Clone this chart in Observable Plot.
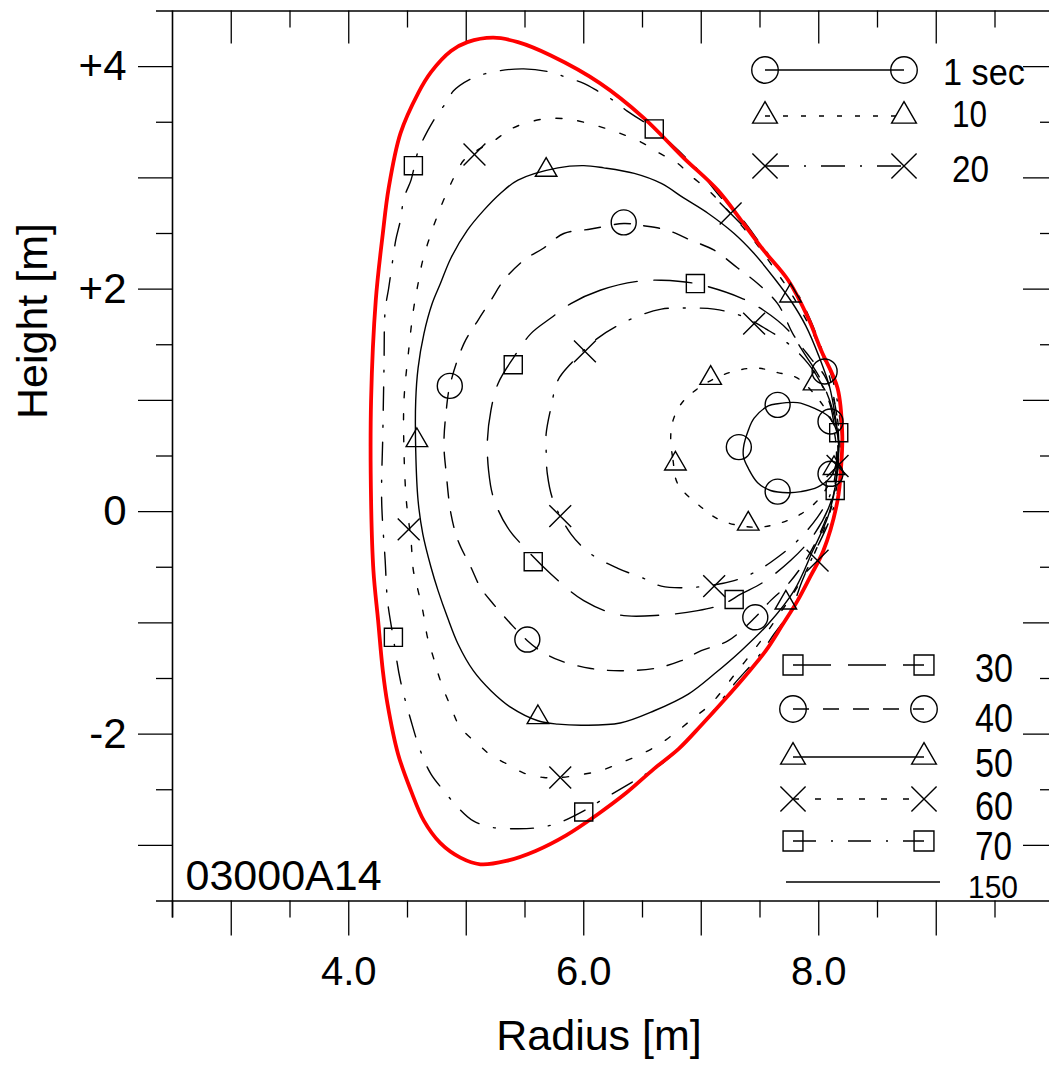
<!DOCTYPE html>
<html><head><meta charset="utf-8">
<script src="https://cdn.jsdelivr.net/npm/d3@7"></script>
<script src="https://cdn.jsdelivr.net/npm/@observablehq/plot@0.6"></script>
<style>
html,body{margin:0;padding:0;background:#fff;overflow:hidden;}
#wrap{position:relative;width:1049px;height:1065px;}
#wrap svg{position:absolute;left:0;top:0;}
</style></head><body><div id="wrap"></div>
<script>
// ---- data (Radius [m], Height [m]) ----
const c1 = [[7.65,0.97],[7.82,0.98],[7.96,0.93],[8.08,0.86],[8.14,0.76],[8.17,0.58],[8.14,0.40],[8.10,0.31],[7.99,0.22],[7.85,0.18],[7.74,0.17],[7.59,0.19],[7.48,0.26],[7.40,0.39],[7.36,0.49],[7.36,0.58],[7.40,0.73],[7.45,0.84],[7.57,0.95]];
const m1 = [[7.65,0.96],[7.32,0.58],[7.65,0.18],[8.10,0.34],[8.10,0.81]];

const c10 = [[6.74,0.67],[6.76,0.46],[6.80,0.25],[7.00,0.04],[7.17,-0.08],[7.45,-0.14],[7.65,-0.11],[7.85,-0.02],[7.99,0.10],[8.10,0.28],[8.15,0.50],[8.13,0.73],[8.10,0.84],[7.99,1.02],[7.82,1.20],[7.65,1.25],[7.48,1.29],[7.31,1.27],[7.12,1.20],[6.95,1.09],[6.83,0.97],[6.76,0.82]];
const m10 = [[7.08,1.20],[6.78,0.43],[7.40,-0.11],[8.13,0.39],[7.96,1.15]];

const c20 = [[5.68,0.55],[5.69,0.34],[5.74,0.10],[5.89,-0.20],[6.06,-0.38],[6.29,-0.51],[6.51,-0.60],[6.66,-0.67],[6.94,-0.68],[7.28,-0.62],[7.48,-0.53],[7.65,-0.41],[7.82,-0.26],[7.99,-0.05],[8.10,0.16],[8.15,0.41],[8.14,0.68],[8.10,0.95],[8.02,1.15],[7.91,1.33],[7.74,1.51],[7.57,1.63],[7.34,1.76],[7.11,1.82],[6.89,1.83],[6.66,1.82],[6.40,1.73],[6.12,1.56],[5.89,1.33],[5.78,1.18],[5.72,0.93],[5.68,0.70]];
const m20 = [[6.01,1.44],[5.80,-0.04],[7.11,-0.67],[8.16,0.41],[7.45,1.69]];

const c30 = [[5.89,1.87],[6.14,1.99],[6.46,2.07],[6.66,2.08],[6.95,2.05],[7.34,1.92],[7.53,1.81],[7.74,1.63],[7.89,1.40],[8.02,1.18],[8.12,0.91],[8.16,0.64],[8.15,0.32],[8.09,0.05],[7.95,-0.22],[7.76,-0.44],[7.52,-0.64],[7.34,-0.74],[7.19,-0.83],[6.97,-0.89],[6.66,-0.93],[6.31,-0.93],[6.00,-0.80],[5.72,-0.56],[5.52,-0.35],[5.35,-0.14],[5.23,0.13],[5.19,0.37],[5.18,0.64],[5.21,0.91],[5.27,1.15],[5.40,1.38],[5.55,1.60],[5.72,1.74]];
const m30 = [[5.40,1.32],[5.57,-0.45],[7.28,-0.79],[8.17,0.71],[6.95,2.05]];

const c40 = [[6.34,2.59],[6.51,2.57],[6.71,2.53],[6.91,2.44],[7.11,2.35],[7.31,2.19],[7.48,2.05],[7.65,1.87],[7.79,1.58],[7.93,1.38],[8.05,1.22],[8.13,1.00],[8.17,0.64],[8.15,0.28],[8.07,-0.04],[7.91,-0.40],[7.74,-0.65],[7.59,-0.80],[7.46,-0.95],[7.23,-1.16],[7.00,-1.25],[6.83,-1.34],[6.60,-1.41],[6.31,-1.43],[6.06,-1.41],[5.80,-1.34],[5.63,-1.25],[5.52,-1.16],[5.38,-1.01],[5.23,-0.83],[5.12,-0.68],[5.04,-0.50],[4.93,-0.26],[4.87,-0.02],[4.83,0.34],[4.81,0.61],[4.83,0.91],[4.86,1.13],[4.98,1.51],[5.10,1.72],[5.21,1.90],[5.32,2.08],[5.49,2.26],[5.66,2.37],[5.83,2.50],[6.06,2.54]];
const m40 = [[6.34,2.60],[4.86,1.13],[5.52,-1.15],[7.46,-0.95],[8.05,1.26]];

const c50 = [[6.00,3.11],[6.17,3.09],[6.43,3.04],[6.66,2.95],[6.85,2.82],[7.06,2.68],[7.28,2.50],[7.45,2.32],[7.62,2.10],[7.76,1.90],[7.89,1.67],[8.00,1.40],[8.09,1.13],[8.14,0.86],[8.17,0.59],[8.15,0.28],[8.08,-0.04],[7.95,-0.35],[7.79,-0.71],[7.57,-1.01],[7.34,-1.25],[7.11,-1.46],[6.89,-1.64],[6.60,-1.79],[6.31,-1.90],[6.00,-1.92],[5.78,-1.91],[5.61,-1.88],[5.38,-1.76],[5.21,-1.61],[5.06,-1.43],[4.93,-1.19],[4.84,-0.95],[4.76,-0.71],[4.70,-0.50],[4.63,-0.20],[4.59,0.10],[4.57,0.55],[4.57,1.00],[4.59,1.29],[4.64,1.60],[4.71,1.87],[4.78,2.05],[4.87,2.28],[5.01,2.53],[5.15,2.71],[5.29,2.86],[5.44,2.98],[5.78,3.09]];
const m50 = [[5.68,3.07],[4.58,0.64],[5.61,-1.85],[7.72,-0.82],[7.76,1.94]];

const c60 = [[5.23,3.33],[5.40,3.45],[5.66,3.53],[5.86,3.53],[6.00,3.50],[6.17,3.45],[6.31,3.40],[6.49,3.32],[6.63,3.23],[6.80,3.13],[6.91,3.02],[7.06,2.89],[7.25,2.68],[7.40,2.50],[7.51,2.35],[7.63,2.17],[7.76,1.97],[7.89,1.73],[8.00,1.49],[8.09,1.22],[8.14,0.95],[8.18,0.64],[8.17,0.32],[8.10,0.01],[7.99,-0.31],[7.85,-0.62],[7.66,-0.93],[7.48,-1.20],[7.28,-1.47],[7.08,-1.73],[6.94,-1.85],[6.80,-1.97],[6.66,-2.08],[6.49,-2.18],[6.31,-2.26],[6.14,-2.33],[6.00,-2.36],[5.80,-2.39],[5.66,-2.39],[5.49,-2.35],[5.35,-2.27],[5.21,-2.19],[5.10,-2.09],[4.95,-1.94],[4.87,-1.76],[4.78,-1.52],[4.72,-1.31],[4.67,-1.13],[4.63,-0.89],[4.59,-0.71],[4.55,-0.53],[4.53,-0.26],[4.49,0.10],[4.47,0.55],[4.47,1.00],[4.51,1.45],[4.55,1.81],[4.59,2.05],[4.63,2.26],[4.70,2.50],[4.78,2.73],[4.87,2.95],[4.98,3.16],[5.08,3.24]];
const m60 = [[5.07,3.21],[4.51,-0.16],[5.80,-2.39],[7.99,-0.44],[7.25,2.68]];

const c70 = [[5.27,3.96],[5.49,3.98],[5.72,3.95],[5.86,3.90],[6.00,3.85],[6.12,3.78],[6.26,3.69],[6.37,3.60],[6.60,3.44],[6.74,3.31],[6.89,3.16],[7.00,3.04],[7.17,2.82],[7.34,2.64],[7.53,2.37],[7.68,2.17],[7.82,1.96],[7.93,1.72],[8.03,1.45],[8.12,1.18],[8.17,0.91],[8.20,0.55],[8.17,0.23],[8.09,-0.08],[7.95,-0.40],[7.86,-0.62],[7.76,-0.89],[7.62,-1.10],[7.48,-1.31],[7.28,-1.55],[7.08,-1.82],[6.85,-2.09],[6.66,-2.27],[6.43,-2.42],[6.14,-2.60],[6.00,-2.69],[5.78,-2.80],[5.61,-2.84],[5.44,-2.85],[5.23,-2.84],[5.06,-2.78],[4.93,-2.66],[4.81,-2.51],[4.70,-2.36],[4.61,-2.15],[4.53,-1.88],[4.44,-1.52],[4.38,-1.14],[4.33,-0.80],[4.31,-0.44],[4.28,0.10],[4.29,0.70],[4.30,1.29],[4.31,1.81],[4.34,2.01],[4.37,2.23],[4.40,2.44],[4.44,2.62],[4.47,2.82],[4.53,2.98],[4.56,3.11],[4.59,3.24],[4.67,3.42],[4.76,3.58],[4.84,3.69],[4.89,3.78],[5.06,3.90]];
const m70 = [[6.60,3.44],[4.55,3.11],[4.38,-1.13],[6.00,-2.70],[8.14,0.19]];

const c150 = [[5.23,4.26],[5.44,4.22],[5.72,4.10],[6.14,3.85],[6.51,3.54],[6.85,3.18],[7.14,2.89],[7.36,2.59],[7.53,2.35],[7.74,2.08],[7.91,1.74],[8.02,1.45],[8.16,1.11],[8.20,0.70],[8.19,0.40],[8.16,0.10],[8.04,-0.35],[7.93,-0.58],[7.82,-0.80],[7.69,-1.02],[7.55,-1.25],[7.38,-1.47],[7.19,-1.70],[7.00,-1.92],[6.81,-2.13],[6.60,-2.31],[6.36,-2.53],[6.12,-2.72],[5.85,-2.91],[5.59,-3.05],[5.34,-3.14],[5.12,-3.17],[4.95,-3.11],[4.78,-2.98],[4.64,-2.78],[4.53,-2.51],[4.42,-2.18],[4.33,-1.73],[4.29,-1.43],[4.25,-0.98],[4.21,-0.53],[4.19,0.10],[4.19,1.00],[4.23,1.90],[4.29,2.50],[4.34,2.91],[4.44,3.40],[4.59,3.76],[4.70,3.95],[4.87,4.14],[5.01,4.22]];

const legendLabels = ["1 sec","10","20","30","40","50","60","70","150"];
const xTickValues = [4, 6, 8];
const xTickLabels = ["4.0", "6.0", "8.0"];
const yTickValues = [4, 2, 0, -2];
const yTickLabels = ["+4", "+2", "0", "-2"];
const xMajor = [3,4,5,6,7,8,9];
const xMinor = [2.5,3.5,4.5,5.5,6.5,7.5,8.5,9.5];
const yMajor = [-3,-2,-1,0,1,2,3,4];
const yMinor = [-2.5,-1.5,-0.5,0.5,1.5,2.5,3.5];
const plotId = "03000A14";
const xTitle = "Radius [m]";
const yTitle = "Height [m]";

// ---- styles ----
const series = [
  {pts:c1,  mk:m1,  symbol:"circle",   r:12.5, dash:null},
  {pts:c10, mk:m10, symbol:"triangle", r:8,    dash:"5,13"},
  {pts:c20, mk:m20, symbol:"times",    r:10,   dash:"24,15,2,15"},
  {pts:c30, mk:m30, symbol:"square",   r:10.2, dash:"38,17"},
  {pts:c40, mk:m40, symbol:"circle",   r:12.5, dash:"16,14"},
  {pts:c50, mk:m50, symbol:"triangle", r:8,    dash:null},
  {pts:c60, mk:m60, symbol:"times",    r:10,   dash:"6,16"},
  {pts:c70, mk:m70, symbol:"square",   r:10.2, dash:"23,15,2,15"}
];
const FONT = "'Liberation Sans', Arial, Helvetica, sans-serif";
const SW = 1.4;
const FH = 890, FW = 877;

const marks = [];
// frame lines
marks.push(Plot.ruleY([4.5], {insetLeft:-16, strokeWidth:1.6}));
marks.push(Plot.ruleY([-3.5], {insetLeft:-16, strokeWidth:1.6}));
marks.push(Plot.ruleX([2.5], {insetBottom:-17, strokeWidth:1.6}));
// bottom ticks (outward)
marks.push(Plot.ruleX(xMajor, {insetTop:FH, insetBottom:-35, strokeWidth:1.3}));
marks.push(Plot.ruleX(xMinor, {insetTop:FH, insetBottom:-17, strokeWidth:1.3}));
// top ticks (inward)
marks.push(Plot.ruleX(xMajor, {insetBottom:FH-33, strokeWidth:1.3}));
marks.push(Plot.ruleX(xMinor.filter(d=>d>2.5), {insetBottom:FH-17, strokeWidth:1.3}));
// left ticks (outward)
marks.push(Plot.ruleY(yMajor, {insetRight:FW, insetLeft:-34, strokeWidth:1.3}));
marks.push(Plot.ruleY(yMinor, {insetRight:FW, insetLeft:-16, strokeWidth:1.3}));
// right ticks (inward, axis itself lies just beyond the edge)
marks.push(Plot.ruleY(yMajor, {insetLeft:FW-26, strokeWidth:1.3}));
marks.push(Plot.ruleY(yMinor, {insetLeft:FW-9, strokeWidth:1.3}));
// tick labels
marks.push(Plot.text(xTickValues.map((v,i)=>({v, t:xTickLabels[i]})), {x:"v", text:"t", frameAnchor:"bottom", lineAnchor:"top", dy:56, fontSize:40}));
marks.push(Plot.text(yTickValues.map((v,i)=>({v, t:yTickLabels[i]})), {y:"v", text:"t", frameAnchor:"left", textAnchor:"end", dx:-46, fontSize:42}));
// titles
marks.push(Plot.text([xTitle], {frameAnchor:"bottom", lineAnchor:"bottom", dx:-12, dy:149, fontSize:43}));
marks.push(Plot.text([yTitle], {frameAnchor:"left", rotate:-90, dx:-139, dy:-37, fontSize:43}));
marks.push(Plot.text([plotId], {frameAnchor:"bottom-left", textAnchor:"start", lineAnchor:"bottom", dx:13, dy:-11, fontSize:43}));
// contours
for (const s of series) {
  marks.push(Plot.line(s.pts, {x:d=>d[0], y:d=>d[1], curve:"catmull-rom-closed", stroke:"#000", strokeWidth:SW, strokeDasharray:s.dash || undefined}));
}
marks.push(Plot.line(c150, {x:d=>d[0], y:d=>d[1], curve:"catmull-rom-closed", stroke:"#f00", strokeWidth:3.8}));
for (const s of series) {
  marks.push(Plot.dot(s.mk, {x:d=>d[0], y:d=>d[1], symbol:s.symbol, r:s.r, stroke:"#000", fill:"none", strokeWidth:SW}));
}

const chart = Plot.plot({
  width:1049, height:1065,
  marginLeft:172, marginRight:0, marginTop:10.5, marginBottom:164.5,
  x:{domain:[2.5,10], range:[172,1053.25], axis:null},
  y:{domain:[-3.5,4.5], range:[900.5,10.5], axis:null},
  style:{fontFamily:FONT, background:"white", color:"#000", overflow:"hidden"},
  marks
});
const wrap = document.getElementById("wrap");
wrap.appendChild(chart);

// ---- legend overlay ----
const leg = d3.select(wrap).append("svg").attr("width",1049).attr("height",1065)
  .style("pointer-events","none").style("font-family",FONT);
const rows = [
  {y:70,  x1:765, x2:904, tx:943, ty:85,  fs:37, tl:82},
  {y:116, x1:765, x2:904, tx:952, ty:127, fs:37, tl:35},
  {y:166, x1:765, x2:904, tx:952, ty:182, fs:37, tl:37},
  {y:665, x1:793, x2:924, tx:975, ty:682, fs:40, tl:38},
  {y:709, x1:793, x2:924, tx:975, ty:732, fs:40, tl:38},
  {y:757, x1:793, x2:924, tx:975, ty:777, fs:40, tl:38},
  {y:799, x1:793, x2:924, tx:975, ty:820, fs:40, tl:38},
  {y:841, x1:793, x2:924, tx:975, ty:860, fs:40, tl:37}
];
const symMap = {circle:d3.symbolCircle, triangle:d3.symbolTriangle, times:d3.symbolTimes, square:d3.symbolSquare};
const legScale = {circle:1.06, triangle:1.15, times:1.15, square:1.1};
series.forEach((s,i)=>{
  const r = rows[i];
  leg.append("line").attr("x1",r.x1).attr("x2",r.x2).attr("y1",r.y).attr("y2",r.y)
    .attr("stroke","#000").attr("stroke-width",SW).attr("stroke-dasharray", s.dash || null);
  const rr = s.r*legScale[s.symbol];
  const path = d3.symbol().type(symMap[s.symbol]).size(Math.PI*rr*rr)();
  for (const x of [r.x1, r.x2]) {
    leg.append("path").attr("d",path).attr("transform",`translate(${x},${r.y})`)
      .attr("fill","none").attr("stroke","#000").attr("stroke-width",SW);
  }
  leg.append("text").attr("x",r.tx).attr("y",r.ty).attr("font-size",r.fs)
    .attr("textLength",r.tl).attr("lengthAdjust","spacingAndGlyphs").text(legendLabels[i]);
});
leg.append("line").attr("x1",786).attr("x2",940).attr("y1",882).attr("y2",882)
  .attr("stroke","#000").attr("stroke-width",SW);
leg.append("text").attr("x",968).attr("y",898).attr("font-size",32)
  .attr("textLength",50).attr("lengthAdjust","spacingAndGlyphs").text(legendLabels[8]);
</script></body></html>
